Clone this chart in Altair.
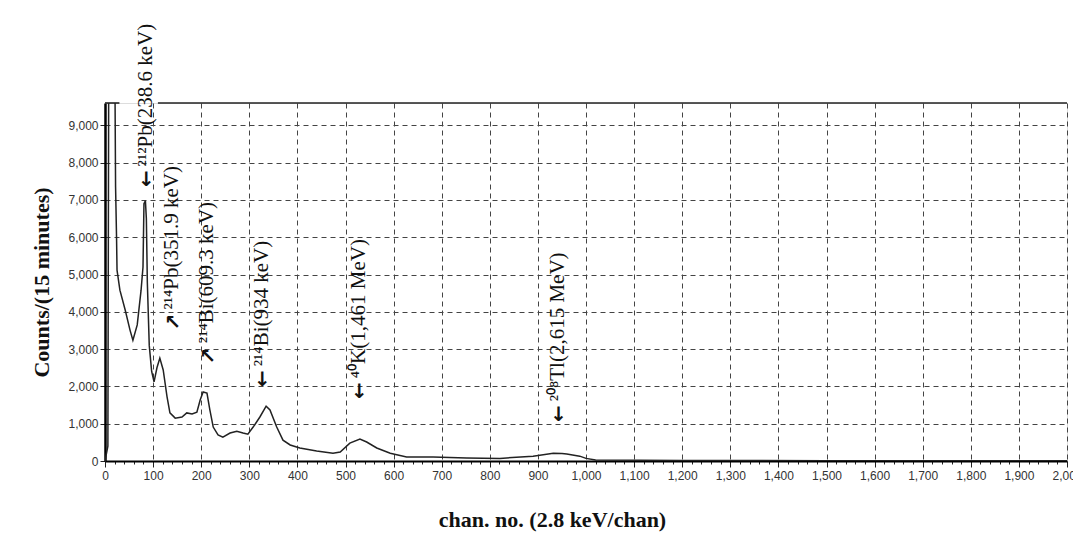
import altair as alt
import pandas as pd

# Spectrum (channel number, counts per 15 minutes)
chan = [0, 6, 8, 20, 21, 22, 24, 25, 31, 42, 52, 58, 67, 75, 79, 81, 84, 86, 88, 92,
        97, 102, 108, 114, 121, 129, 135, 146, 160, 170, 181, 191, 198, 204, 212, 218,
        225, 235, 245, 260, 274, 287, 297, 308, 322, 335, 343, 357, 370, 385, 405, 440,
        474, 489, 509, 530, 544, 565, 593, 627, 682, 752, 821, 890, 932, 950, 960, 987,
        1000, 1020, 1200, 1500, 2000]
counts = [0, 400, 12000, 12000, 9500, 7350, 6000, 5120, 4580, 4050, 3510, 3240, 3650,
          4580, 5200, 6900, 6980, 6500, 4800, 3100, 2400, 2120, 2500, 2760, 2440, 1720,
          1290, 1150, 1180, 1290, 1260, 1310, 1640, 1850, 1820, 1370, 910, 700, 640, 750,
          800, 750, 720, 910, 1180, 1470, 1370, 910, 560, 430, 350, 270, 210, 240, 480,
          590, 510, 350, 210, 110, 110, 80, 70, 130, 210, 200, 190, 130, 70, 30, 15, 10, 5]

# Peak annotations (rotated labels)
ann_text = ["\u00b2\u00b9\u00b2Pb(238.6 keV)",
            "\u00b2\u00b9\u2074Pb(351.9 keV)",
            "\u00b2\u00b9\u2074Bi(609.3 keV)",
            "\u00b2\u00b9\u2074Bi(934 keV)",
            "\u2074\u2070K(1,461 MeV)",
            "\u00b2\u2070\u2078Tl(2,615 MeV)"]
ann_chan = [85, 139, 212, 326, 528, 942]
ann_counts = [7900, 4060, 3160, 2540, 2220, 1600]

# Arrows under each label
arrow_text = ["\u2193", "\u2196", "\u2196", "\u2193", "\u2193", "\u2193"]
arrow_chan = [86, 140, 213, 327, 529, 943]
arrow_counts = [7530, 3690, 2790, 2170, 1850, 1230]

# Top frame segments
top_start = [0, 110]
top_end = [30, 2000]
top_level = [9600, 9600]

YMAX = 9600

spec = pd.DataFrame({"chan": chan, "counts": counts})
ann = pd.DataFrame({"text": ann_text, "chan": ann_chan, "counts": ann_counts})
arr = pd.DataFrame({"text": arrow_text, "chan": arrow_chan, "counts": arrow_counts})
top = pd.DataFrame({"chan": top_start, "chan2": top_end, "counts": top_level})

xscale = alt.Scale(domain=[0, 2000], nice=False, zero=True)
yscale = alt.Scale(domain=[0, YMAX], nice=False)

x_axis = alt.Axis(
    values=list(range(0, 2001, 20)),
    labelExpr="datum.value % 100 === 0 ? format(datum.value, ',d') : ''",
    title="chan. no. (2.8 keV/chan)",
    titleFont="Liberation Serif", titleFontWeight="bold", titleFontSize=22,
    titleColor="#111", titlePadding=28, titleX=447,
    labelFont="Liberation Sans", labelFontSize=12, labelColor="#333",
    labelPadding=3, labelFlush=False, labelOverlap=False,
    tickSize={"condition": {"test": "datum.value % 100 === 0", "value": 6}, "value": 3},
    tickColor="#222", tickWidth=1,
    domainColor="#000", domainWidth=2,
    grid=True,
    gridOpacity={"condition": {"test": "datum.value % 100 === 0 && datum.value > 0", "value": 1}, "value": 0},
    gridColor="#444", gridDash=[5, 4], gridWidth=1,
)
y_axis = alt.Axis(
    values=list(range(0, 9001, 1000)),
    format=",d",
    title="Counts/(15 minutes)",
    titleFont="Liberation Serif", titleFontWeight="bold", titleFontSize=22,
    titleColor="#111", titlePadding=14,
    labelFont="Liberation Sans", labelFontSize=12, labelColor="#333", labelPadding=2,
    labelOverlap=False,
    tickSize=5, tickColor="#222",
    domainColor="#000", domainWidth=2.5,
    grid=True,
    gridOpacity={"condition": {"test": "datum.value > 0", "value": 1}, "value": 0},
    gridColor="#444", gridDash=[5, 4], gridWidth=1,
)

X = alt.X("chan:Q", scale=xscale, axis=x_axis)
Y = alt.Y("counts:Q", scale=yscale, axis=y_axis)

line = alt.Chart(spec).mark_line(color="#222", strokeWidth=1.5, clip=True).encode(x=X, y=Y)

frame = alt.Chart(top).mark_rule(color="#222", strokeWidth=1.6).encode(
    x=X, x2="chan2:Q", y=Y
)

labels = alt.Chart(ann).mark_text(
    angle=270, align="left", baseline="middle",
    font="Liberation Serif", fontSize=21, color="#111",
).encode(x=X, y=Y, text="text:N")

arrows = alt.Chart(arr).mark_text(
    align="center", baseline="middle",
    font="DejaVu Sans", fontSize=20, fontWeight="bold", color="#111",
).encode(x=X, y=Y, text="text:N")

chart = alt.layer(line, frame, labels, arrows).properties(
    width=962, height=358,
    autosize=alt.AutoSizeParams(type="none"),
    padding={"left": 97, "top": 95, "right": 6, "bottom": 77},
).configure_view(stroke=None).configure(background="white")

chart.save("out.html", embed_options={"renderer": "svg", "actions": False})
